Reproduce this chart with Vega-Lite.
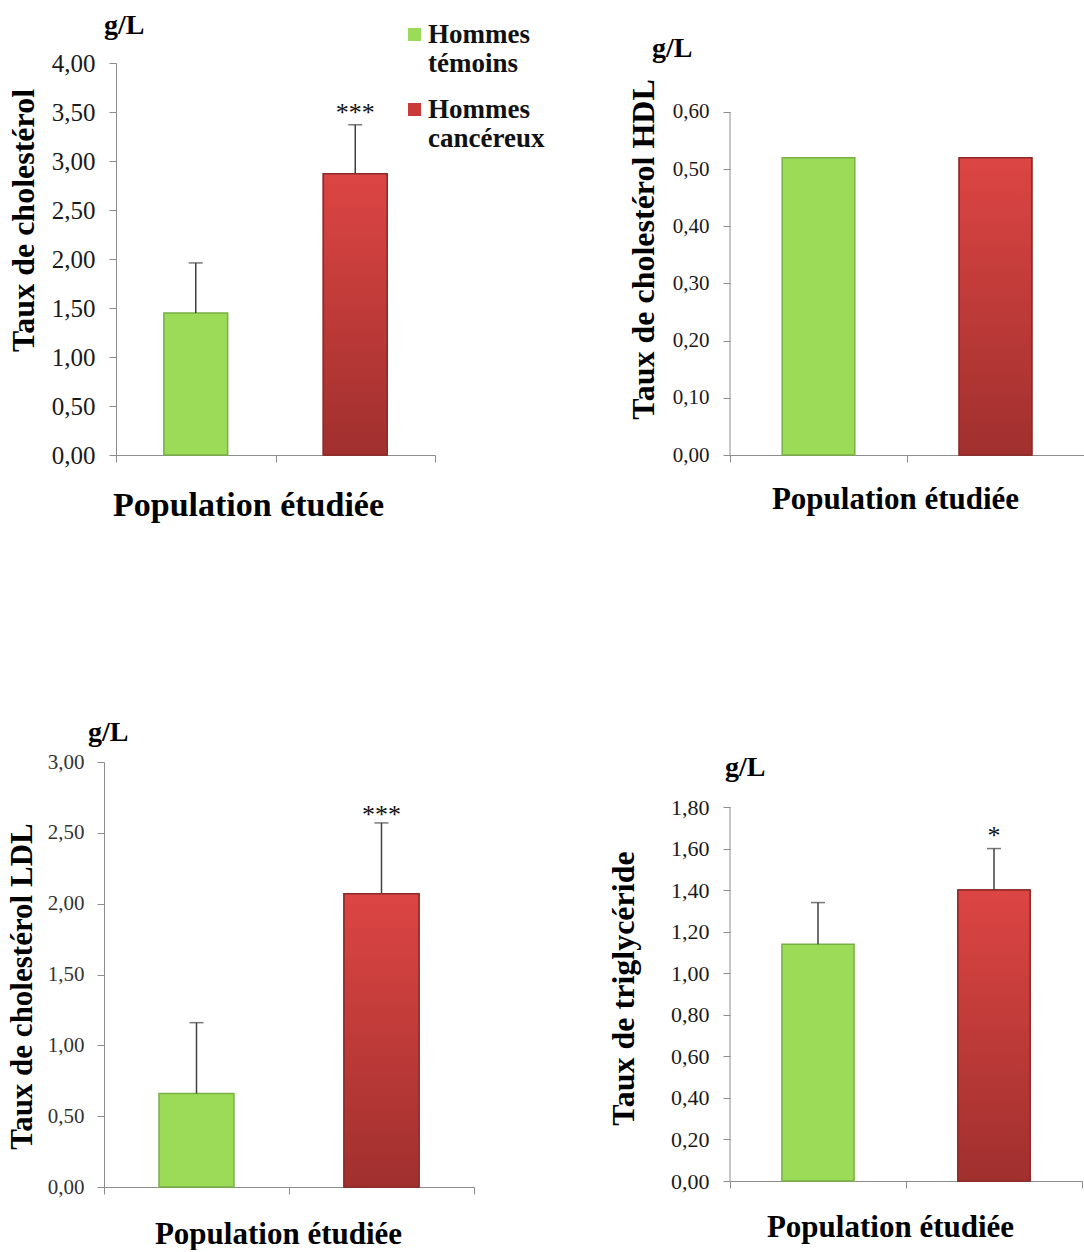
{
  "$schema": "https://vega.github.io/schema/vega-lite/v6.json",
  "background": "white",
  "padding": {"left": 6, "top": 12, "right": 0, "bottom": 0},
  "datasets": {
    "cholesterol": [
      {"group": "Hommes témoins", "value": 1.45, "upper": 1.96, "sig": ""},
      {"group": "Hommes cancéreux", "value": 2.87, "upper": 3.37, "sig": "***"}
    ],
    "hdl": [
      {"group": "Hommes témoins", "value": 0.52},
      {"group": "Hommes cancéreux", "value": 0.52}
    ],
    "ldl": [
      {"group": "Hommes témoins", "value": 0.66, "upper": 1.16, "sig": ""},
      {"group": "Hommes cancéreux", "value": 2.07, "upper": 2.57, "sig": "***"}
    ],
    "tg": [
      {"group": "Hommes témoins", "value": 1.14, "upper": 1.34, "sig": ""},
      {"group": "Hommes cancéreux", "value": 1.40, "upper": 1.60, "sig": "*"}
    ]
  },
  "columns": 2,
  "spacing": {"row": 307, "column": 256},
  "bounds": "flush",
  "align": "each",
  "concat": [
    {
      "width": 331, "height": 392,
      "data": {"name": "cholesterol"},
      "title": {"text": "g/L", "anchor": "start", "frame": "group", "dx": 0, "offset": 11, "fontSize": 28, "fontWeight": "bold"},
      "encoding": {
        "x": {"field": "group", "type": "nominal", "sort": ["Hommes témoins", "Hommes cancéreux"],
          "scale": {"paddingInner": 0, "paddingOuter": 0, "rangeMin": 12},
          "axis": {"labels": false, "labelPadding": 0, "tickBand": "extent", "title": "Population étudiée", "titleFontSize": 34, "titlePadding": 26, "titleX": 144}},
        "y": {"field": "value", "type": "quantitative",
          "scale": {"domain": [0, 4], "nice": false},
          "axis": {"values": [0, 0.5, 1, 1.5, 2, 2.5, 3, 3.5, 4], "labelExpr": "replace(format(datum.value, '.2f'), '.', ',')", "offset": -12, "labelFontSize": 25, "labelPadding": 14, "title": "Taux de cholestérol", "titleFontSize": 32, "titleY": 157, "titlePadding": 11}}
      },
      "layer": [
        {"mark": {"type": "bar", "width": {"band": 0.4}, "strokeWidth": 1.5},
         "encoding": {
           "color": {"field": "group", "type": "nominal", "sort": ["Hommes témoins", "Hommes cancéreux"],
             "scale": {"domain": ["Hommes témoins", "Hommes cancéreux"], "range": ["#9CDB58", "#C93B38"]},
             "legend": {"orient": "none", "legendX": 297, "legendY": -42, "title": null, "labelFontSize": 27, "labelFontWeight": "bold", "labelColor": "#111", "labelExpr": "split(datum.label, ' ')", "symbolType": "square", "symbolSize": 170, "symbolStrokeWidth": 0, "rowPadding": 18, "labelOffset": 0}},
           "stroke": {"field": "group", "type": "nominal", "scale": {"domain": ["Hommes témoins", "Hommes cancéreux"], "range": ["#78B043", "#8E2B29"]}, "legend": null}
         }},
        {"transform": [{"filter": "datum.group === 'Hommes cancéreux'"}],
         "mark": {"type": "bar", "width": {"band": 0.4}, "stroke": "#8E2B29", "strokeWidth": 1.5,
           "fill": {"gradient": "linear", "x1": 0, "y1": 0, "x2": 0, "y2": 1, "stops": [{"offset": 0, "color": "#DC4543"}, {"offset": 1, "color": "#A0302E"}]}}},
        {"mark": {"type": "rule", "color": "#404040", "strokeWidth": 1.5},
         "encoding": {"y2": {"field": "upper"}}},
        {"mark": {"type": "tick", "color": "#404040", "thickness": 1.5, "size": 14},
         "encoding": {"y": {"field": "upper", "type": "quantitative", "title": "Taux de cholestérol"}}},
        {"mark": {"type": "text", "fontSize": 26, "baseline": "alphabetic", "dy": -4, "color": "#111", "letterSpacing": 2},
         "encoding": {"y": {"field": "upper", "type": "quantitative", "title": "Taux de cholestérol"}, "text": {"field": "sig"}}}
      ]
    },
    {
      "width": 354, "height": 392,
      "data": {"name": "hdl"},
      "title": {"text": "g/L", "anchor": "start", "frame": "group", "dx": -78, "offset": 0, "fontSize": 28, "fontWeight": "bold"},
      "encoding": {
        "x": {"field": "group", "type": "nominal", "sort": ["Hommes témoins", "Hommes cancéreux"],
          "scale": {"paddingInner": 0, "paddingOuter": 0},
          "axis": {"labels": false, "labelPadding": 0, "tickBand": "extent", "title": "Population étudiée", "titleFontSize": 31, "titlePadding": 22, "titleX": 165}},
        "y": {"field": "value", "type": "quantitative",
          "scale": {"domain": [0, 0.6857], "nice": false},
          "axis": {"values": [0, 0.1, 0.2, 0.3, 0.4, 0.5, 0.6], "domain": false, "labelExpr": "replace(format(datum.value, '.2f'), '.', ',')", "labelFontSize": 21, "labelPadding": 14, "title": "Taux de cholestérol HDL", "titleFontSize": 32, "titleY": 186, "titlePadding": 12}}
      },
      "layer": [
        {"mark": {"type": "bar", "width": {"band": 0.41}, "strokeWidth": 1.5},
         "encoding": {
           "color": {"field": "group", "type": "nominal", "scale": {"domain": ["Hommes témoins", "Hommes cancéreux"], "range": ["#9CDB58", "#C93B38"]}, "legend": null},
           "stroke": {"field": "group", "type": "nominal", "scale": {"domain": ["Hommes témoins", "Hommes cancéreux"], "range": ["#78B043", "#8E2B29"]}, "legend": null}
         }},
        {"transform": [{"filter": "datum.group === 'Hommes cancéreux'"}],
         "mark": {"type": "bar", "width": {"band": 0.41}, "stroke": "#8E2B29", "strokeWidth": 1.5,
           "fill": {"gradient": "linear", "x1": 0, "y1": 0, "x2": 0, "y2": 1, "stops": [{"offset": 0, "color": "#DC4543"}, {"offset": 1, "color": "#A0302E"}]}}},
        {"transform": [{"filter": "datum.group === 'Hommes témoins'"}],
         "mark": {"type": "rule", "color": "#8c8c8c", "strokeWidth": 1},
         "encoding": {"x": {"datum": "Hommes témoins", "type": "nominal", "bandPosition": 0}, "y": {"datum": 0, "type": "quantitative"}, "y2": {"datum": 0.6}}}
      ]
    },
    {
      "width": 370, "height": 425,
      "data": {"name": "ldl"},
      "title": {"text": "g/L", "anchor": "start", "frame": "group", "dx": -16, "offset": 4, "fontSize": 28, "fontWeight": "bold"},
      "encoding": {
        "x": {"field": "group", "type": "nominal", "sort": ["Hommes témoins", "Hommes cancéreux"],
          "scale": {"paddingInner": 0, "paddingOuter": 0},
          "axis": {"labels": false, "labelPadding": 0, "tickBand": "extent", "title": "Population étudiée", "titleFontSize": 31, "titlePadding": 25, "titleX": 174}},
        "y": {"field": "value", "type": "quantitative",
          "scale": {"domain": [0, 3], "nice": false},
          "axis": {"values": [0, 0.5, 1, 1.5, 2, 2.5, 3], "labelExpr": "replace(format(datum.value, '.2f'), '.', ',')", "labelFontSize": 21, "labelPadding": 13, "labelColor": "#333", "title": "Taux de cholestérol LDL", "titleFontSize": 31, "titleY": 224, "titlePadding": 9}}
      },
      "layer": [
        {"mark": {"type": "bar", "width": {"band": 0.405}, "strokeWidth": 1.5},
         "encoding": {
           "color": {"field": "group", "type": "nominal", "scale": {"domain": ["Hommes témoins", "Hommes cancéreux"], "range": ["#9CDB58", "#C93B38"]}, "legend": null},
           "stroke": {"field": "group", "type": "nominal", "scale": {"domain": ["Hommes témoins", "Hommes cancéreux"], "range": ["#78B043", "#8E2B29"]}, "legend": null}
         }},
        {"transform": [{"filter": "datum.group === 'Hommes cancéreux'"}],
         "mark": {"type": "bar", "width": {"band": 0.405}, "stroke": "#8E2B29", "strokeWidth": 1.5,
           "fill": {"gradient": "linear", "x1": 0, "y1": 0, "x2": 0, "y2": 1, "stops": [{"offset": 0, "color": "#DC4543"}, {"offset": 1, "color": "#A0302E"}]}}},
        {"mark": {"type": "rule", "color": "#404040", "strokeWidth": 1.5},
         "encoding": {"y2": {"field": "upper"}}},
        {"mark": {"type": "tick", "color": "#404040", "thickness": 1.5, "size": 14},
         "encoding": {"y": {"field": "upper", "type": "quantitative", "title": "Taux de cholestérol LDL"}}},
        {"mark": {"type": "text", "fontSize": 26, "baseline": "alphabetic", "dy": 0, "color": "#111", "letterSpacing": 2},
         "encoding": {"y": {"field": "upper", "type": "quantitative", "title": "Taux de cholestérol LDL"}, "text": {"field": "sig"}}}
      ]
    },
    {
      "width": 352, "height": 419,
      "data": {"name": "tg"},
      "title": {"text": "g/L", "anchor": "start", "frame": "group", "dx": -5, "offset": -20, "fontSize": 28, "fontWeight": "bold"},
      "encoding": {
        "x": {"field": "group", "type": "nominal", "sort": ["Hommes témoins", "Hommes cancéreux"],
          "scale": {"paddingInner": 0, "paddingOuter": 0},
          "axis": {"labels": false, "labelPadding": 0, "tickBand": "extent", "title": "Population étudiée", "titleFontSize": 31, "titlePadding": 24, "titleX": 160}},
        "y": {"field": "value", "type": "quantitative",
          "scale": {"domain": [0, 2.0166], "nice": false},
          "axis": {"values": [0, 0.2, 0.4, 0.6, 0.8, 1, 1.2, 1.4, 1.6, 1.8], "domain": false, "labelExpr": "replace(format(datum.value, '.2f'), '.', ',')", "labelFontSize": 22, "labelPadding": 14, "title": "Taux de triglycéride", "titleFontSize": 32, "titleY": 226, "titlePadding": 30}}
      },
      "layer": [
        {"mark": {"type": "bar", "width": {"band": 0.41}, "strokeWidth": 1.5},
         "encoding": {
           "color": {"field": "group", "type": "nominal", "scale": {"domain": ["Hommes témoins", "Hommes cancéreux"], "range": ["#9CDB58", "#C93B38"]}, "legend": null},
           "stroke": {"field": "group", "type": "nominal", "scale": {"domain": ["Hommes témoins", "Hommes cancéreux"], "range": ["#78B043", "#8E2B29"]}, "legend": null}
         }},
        {"transform": [{"filter": "datum.group === 'Hommes cancéreux'"}],
         "mark": {"type": "bar", "width": {"band": 0.41}, "stroke": "#8E2B29", "strokeWidth": 1.5,
           "fill": {"gradient": "linear", "x1": 0, "y1": 0, "x2": 0, "y2": 1, "stops": [{"offset": 0, "color": "#DC4543"}, {"offset": 1, "color": "#A0302E"}]}}},
        {"transform": [{"filter": "datum.group === 'Hommes témoins'"}],
         "mark": {"type": "rule", "color": "#8c8c8c", "strokeWidth": 1},
         "encoding": {"x": {"datum": "Hommes témoins", "type": "nominal", "bandPosition": 0}, "y": {"datum": 0, "type": "quantitative"}, "y2": {"datum": 1.8}}},
        {"mark": {"type": "rule", "color": "#404040", "strokeWidth": 1.5},
         "encoding": {"y2": {"field": "upper"}}},
        {"mark": {"type": "tick", "color": "#404040", "thickness": 1.5, "size": 14},
         "encoding": {"y": {"field": "upper", "type": "quantitative", "title": "Taux de triglycéride"}}},
        {"mark": {"type": "text", "fontSize": 26, "baseline": "alphabetic", "dy": -5, "color": "#111"},
         "encoding": {"y": {"field": "upper", "type": "quantitative", "title": "Taux de triglycéride"}, "text": {"field": "sig"}}}
      ]
    }
  ],
  "config": {
    "font": "Liberation Serif",
    "view": {"stroke": null},
    "axis": {"grid": false, "domainColor": "#8c8c8c", "tickColor": "#8c8c8c", "tickSize": 7, "labelColor": "#1a1a1a", "labelFont": "Liberation Serif", "titleFont": "Liberation Serif", "titleColor": "#000", "titleFontWeight": "bold"},
    "legend": {"labelFont": "Liberation Serif"},
    "title": {"font": "Liberation Serif", "color": "#000"},
    "text": {"font": "Liberation Serif"}
  }
}
